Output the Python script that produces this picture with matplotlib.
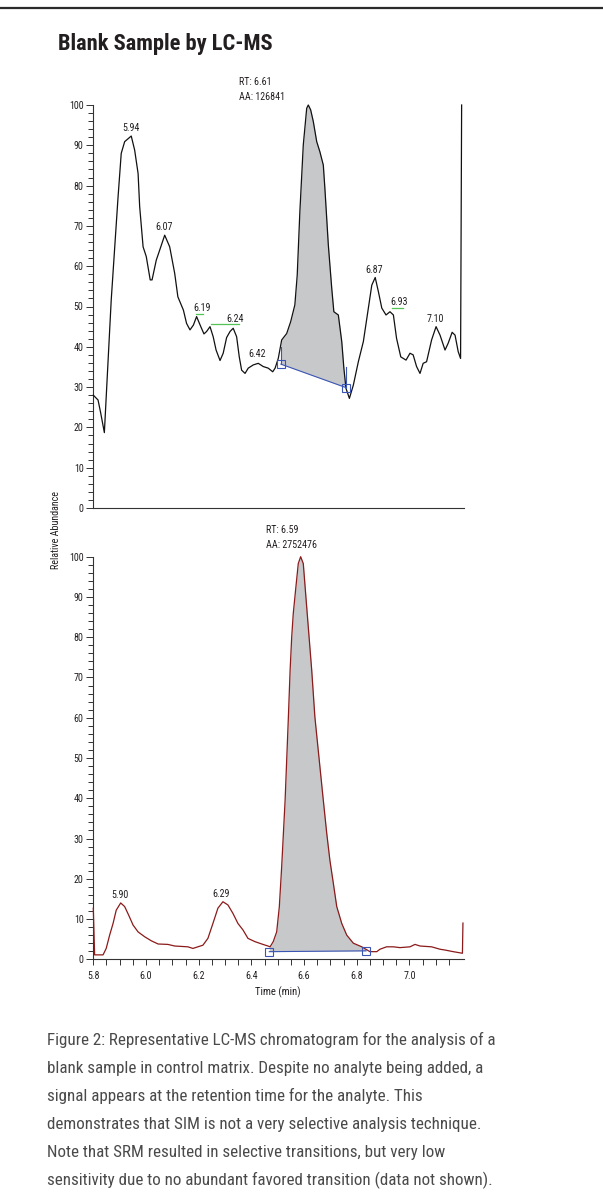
import matplotlib
matplotlib.use("Agg")
import matplotlib.pyplot as plt
import numpy as np
from matplotlib import font_manager
from matplotlib.lines import Line2D
from matplotlib.ticker import MultipleLocator, FixedLocator, FormatStrFormatter

# pick a narrow sans if one is installed (reference uses Univers Condensed)
_entries = font_manager.fontManager.ttflist
_narrow = [f for f in _entries if "condensed" in str(f.stretch) or "Narrow" in f.name
           or "Condensed" in f.name]
FONT, STRETCH = "Roboto", "normal"
for pref in ["Liberation Sans Narrow", "Roboto Condensed", "Noto Sans", "Open Sans",
             "Roboto", "DejaVu Sans", "Lato", "Inter"]:
    hit = [f for f in _narrow if f.name == pref]
    if hit:
        FONT, STRETCH = pref, hit[0].stretch
        break
plt.rcParams["font.family"] = [FONT, "DejaVu Sans"]
plt.rcParams["font.stretch"] = STRETCH if isinstance(STRETCH, str) else "condensed"

# ---- data ------------------------------------------------------------------
# upper trace (SIM, blank sample): time (min), relative abundance (%)
sim_time = [5.800, 5.818, 5.828, 5.842, 5.868, 5.894, 5.906, 5.919, 5.944, 5.957,
            5.970, 5.976, 5.989, 6.001, 6.016, 6.023, 6.039, 6.052, 6.071, 6.090,
            6.109, 6.121, 6.142, 6.154, 6.167, 6.180, 6.192, 6.208, 6.220, 6.230,
            6.243, 6.255, 6.266, 6.281, 6.293, 6.306, 6.319, 6.331, 6.344, 6.354,
            6.363, 6.376, 6.388, 6.407, 6.426, 6.445, 6.464, 6.481, 6.490, 6.502,
            6.515, 6.534, 6.549, 6.565, 6.574, 6.584, 6.597, 6.610, 6.616, 6.625,
            6.635, 6.648, 6.660, 6.673, 6.679, 6.692, 6.705, 6.713, 6.730, 6.743,
            6.751, 6.759, 6.772, 6.787, 6.806, 6.825, 6.844, 6.857, 6.870, 6.882,
            6.895, 6.911, 6.926, 6.939, 6.951, 6.967, 6.987, 7.002, 7.014, 7.027,
            7.040, 7.052, 7.065, 7.084, 7.101, 7.116, 7.135, 7.147, 7.162, 7.173,
            7.185, 7.194, 7.198]
sim_abund = [28.0, 26.8, 23.6, 18.7, 51.6, 77.2, 88.0, 90.9, 92.3, 88.8,
             83.0, 74.8, 64.8, 62.4, 56.6, 56.6, 61.5, 64.0, 67.7, 64.8,
             58.2, 52.4, 49.1, 45.8, 44.2, 45.4, 47.5, 45.0, 43.2, 43.8,
             45.0, 42.5, 39.2, 36.6, 38.4, 42.3, 43.8, 44.6, 42.5, 37.5,
             34.2, 33.4, 34.7, 35.5, 35.9, 35.1, 34.7, 33.8, 34.7, 37.1,
             41.7, 43.3, 46.2, 50.4, 57.8, 73.5, 90.1, 99.2, 100.0, 98.8,
             95.9, 90.9, 88.4, 85.1, 79.3, 65.3, 54.5, 48.7, 47.9, 41.3,
             34.7, 29.7, 27.2, 30.5, 36.3, 41.3, 49.6, 55.3, 57.2, 53.7,
             49.6, 47.9, 48.7, 47.9, 42.1, 37.5, 36.7, 38.4, 38.0, 35.1,
             33.4, 35.9, 36.3, 41.7, 45.0, 42.9, 39.2, 40.9, 43.6, 42.9,
             38.8, 37.1, 100.0]

# lower trace (reference standard)
ref_time = [5.800, 5.805, 5.837, 5.849, 5.862, 5.875, 5.887, 5.904, 5.919, 5.934,
            5.951, 5.970, 5.995, 6.020, 6.046, 6.083, 6.109, 6.159, 6.178, 6.197,
            6.216, 6.235, 6.254, 6.273, 6.292, 6.311, 6.330, 6.349, 6.368, 6.387,
            6.413, 6.444, 6.463, 6.471, 6.483, 6.496, 6.506, 6.515, 6.528, 6.540,
            6.547, 6.553, 6.559, 6.569, 6.578, 6.587, 6.597, 6.606, 6.616, 6.629,
            6.641, 6.673, 6.686, 6.698, 6.711, 6.724, 6.743, 6.762, 6.787, 6.819,
            6.850, 6.876, 6.888, 6.913, 6.939, 6.964, 7.002, 7.021, 7.040, 7.084,
            7.116, 7.135, 7.166, 7.201, 7.203]
ref_abund = [12.7, 1.1, 1.1, 2.7, 6.0, 8.9, 12.2, 14.0, 13.1, 11.0,
             8.5, 6.8, 5.6, 4.6, 3.8, 3.7, 3.3, 3.1, 2.7, 3.1,
             3.5, 5.2, 8.9, 12.7, 14.3, 13.5, 11.4, 8.9, 7.3, 5.2,
             4.4, 3.7, 3.3, 3.1, 4.4, 6.8, 13.0, 23.0, 39.5, 59.4,
             71.8, 80.0, 85.9, 92.5, 98.3, 100.0, 98.3, 90.8, 82.5, 71.8,
             60.2, 39.5, 31.3, 24.6, 18.9, 13.1, 8.9, 6.0, 4.0, 3.1,
             1.9, 1.9, 2.5, 3.1, 3.1, 2.9, 3.1, 3.7, 3.3, 3.1,
             2.5, 2.3, 1.9, 1.5, 9.0]

# integration limits: (start time, start level, end time, end level)
sim_base = (6.512, 35.7, 6.758, 29.9)
ref_base = (6.468, 1.9, 6.835, 2.1)

sim_peaks = ["5.94", "6.07", "6.19", "6.24", "6.42", "6.87", "6.93", "7.10"]
sim_label_xy = [(5.942, 94.3), (6.068, 69.8), (6.211, 49.7), (6.338, 46.8),
                (6.420, 38.1), (6.865, 59.1), (6.961, 51.0), (7.097, 46.9)]
sim_green = [(6.191, 6.217, 48.2), (6.245, 6.353, 45.7), (6.935, 6.975, 49.7)]
ref_peaks = ["5.90", "6.29"]
ref_label_xy = [(5.900, 16.0), (6.286, 16.2)]

sim_info = ["RT: 6.61", "AA: 126841"]
ref_info = ["RT: 6.59", "AA: 2752476"]

time_ticks = [5.8, 6.0, 6.2, 6.4, 6.6, 6.8, 7.0]

caption = [
    "Figure 2: Representative LC-MS chromatogram for the analysis of a",
    "blank sample in control matrix. Despite no analyte being added, a",
    "signal appears at the retention time for the analyte. This",
    "demonstrates that SIM is not a very selective analysis technique.",
    "Note that SRM resulted in selective transitions, but very low",
    "sensitivity due to no abundant favored transition (data not shown).",
]

# ---- styling ---------------------------------------------------------------
INK = "#231f20"
AXC = "#333333"
FILL = "#c7c8ca"
BLUE = "#3a55b4"
GREEN = "#55c255"
TS = 7.2
XLIM = (5.8, 7.207)

W, H = 603, 1200
fig = plt.figure(figsize=(W / 100, H / 100), dpi=100)


def px_rect(x0, y0, x1, y1):
    return [x0 / W, 1 - y1 / H, (x1 - x0) / W, (y1 - y0) / H]


def style_axes(ax, show_x):
    ax.set_xlim(*XLIM)
    ax.set_ylim(0, 100)
    for s in ("top", "right"):
        ax.spines[s].set_visible(False)
    for s in ("left", "bottom"):
        ax.spines[s].set_color(AXC)
        ax.spines[s].set_linewidth(0.8)
    ax.yaxis.set_major_locator(MultipleLocator(10))
    ax.yaxis.set_minor_locator(MultipleLocator(2))
    ax.tick_params(axis="y", which="major", length=5, width=0.7, color=AXC,
                   labelsize=TS, pad=2, labelcolor=INK)
    ax.tick_params(axis="y", which="minor", length=3.5, width=0.7, color=AXC)
    if show_x:
        ax.xaxis.set_major_locator(FixedLocator(time_ticks))
        minors = np.arange(time_ticks[0], 7.17, 0.05)
        ax.xaxis.set_minor_locator(FixedLocator(minors))
        ax.xaxis.set_major_formatter(FormatStrFormatter("%.1f"))
        ax.tick_params(axis="x", which="both", length=4, width=0.7, color=AXC,
                       labelsize=TS, pad=4.5, labelcolor=INK)
    else:
        ax.tick_params(axis="x", which="both", length=0, labelbottom=False)
    ax.patch.set_visible(False)


def draw_peak(ax, t, a, base, color, stems=None):
    t = np.asarray(t)
    a = np.asarray(a)
    t0, b0, t1, b1 = base
    inside = (t > t0) & (t < t1)
    tt = np.concatenate([[t0], t[inside], [t1]])
    aa = np.concatenate([[np.interp(t0, t, a)], a[inside], [np.interp(t1, t, a)]])
    bb = np.interp(tt, [t0, t1], [b0, b1])
    ax.fill_between(tt, bb, aa, color=FILL, lw=0, zorder=1)
    ax.plot(t, a, color=color, lw=0.9, zorder=3, clip_on=False)
    ax.plot([t0, t1], [b0, b1], color=BLUE, lw=0.8, zorder=4)
    ax.plot([t0, t1], [b0, b1], ls="none", marker="s", ms=6, mfc="none",
            mec=BLUE, mew=0.8, zorder=5, clip_on=False)
    if stems:
        for (ts, lo, hi) in stems:
            ax.plot([ts, ts], [lo, hi], color=BLUE, lw=0.8, zorder=4)


def fit_width(txt, target_px, renderer):
    # scale a text's font size so its rendered width matches the reference
    w = txt.get_window_extent(renderer).width
    if w > 0:
        txt.set_fontsize(txt.get_fontsize() * target_px / w)


# top panel
ax1 = fig.add_axes(px_rect(93.3, 105, 464, 508))
style_axes(ax1, False)
draw_peak(ax1, sim_time, sim_abund, sim_base, "#111111",
          stems=[(sim_base[0], sim_base[1], 40.0), (sim_base[2], sim_base[3], 35.0)])
for (x0, x1, y) in sim_green:
    ax1.plot([x0, x1], [y, y], color=GREEN, lw=0.9, zorder=4)
for lab, (x, y) in zip(sim_peaks, sim_label_xy):
    ax1.text(x, y, lab, ha="center", va="center", fontsize=TS, color=INK)
ax1.text(6.353, 105.8, sim_info[0], ha="left", va="center", fontsize=TS,
         color=INK, clip_on=False)
ax1.text(6.353, 102.0, sim_info[1], ha="left", va="center", fontsize=TS,
         color=INK, clip_on=False)

# bottom panel
ax2 = fig.add_axes(px_rect(93.3, 556.7, 464, 959.3))
style_axes(ax2, True)
draw_peak(ax2, ref_time, ref_abund, ref_base, "#8b1a1a")
for lab, (x, y) in zip(ref_peaks, ref_label_xy):
    ax2.text(x, y, lab, ha="center", va="center", fontsize=TS, color=INK)
ax2.text(6.455, 106.6, ref_info[0], ha="left", va="center", fontsize=TS,
         color=INK, clip_on=False)
ax2.text(6.455, 102.8, ref_info[1], ha="left", va="center", fontsize=TS,
         color=INK, clip_on=False)

fig.text(278 / W, 1 - 992.7 / H, "Time (min)", ha="center", va="center",
         fontsize=TS + 0.5, color=INK)
fig.text(56 / W, 1 - 530 / H, "Relative Abundance", ha="center", va="center",
         rotation=90, fontsize=TS, color=INK)

# title, rule and caption
fig.add_artist(Line2D([0, 1], [1 - 8 / H, 1 - 8 / H], color="#2b2b2b", lw=1.6))
title = fig.text(58 / W, 1 - 50 / H, "Blank Sample by LC-MS", ha="left",
                 va="baseline", fontsize=16, fontweight="bold", color=INK)
cap_texts = []
for i, line in enumerate(caption):
    cap_texts.append(fig.text(47.3 / W, 1 - (1040 + 28 * i) / H, line, ha="left",
                              va="center", fontsize=12.5, color="#4a4a4a"))

renderer = fig.canvas.get_renderer()
fit_width(title, 215, renderer)
fit_width(cap_texts[0], 451, renderer)
for t in cap_texts[1:]:
    t.set_fontsize(cap_texts[0].get_fontsize())

fig.savefig("out.png", dpi=100)
